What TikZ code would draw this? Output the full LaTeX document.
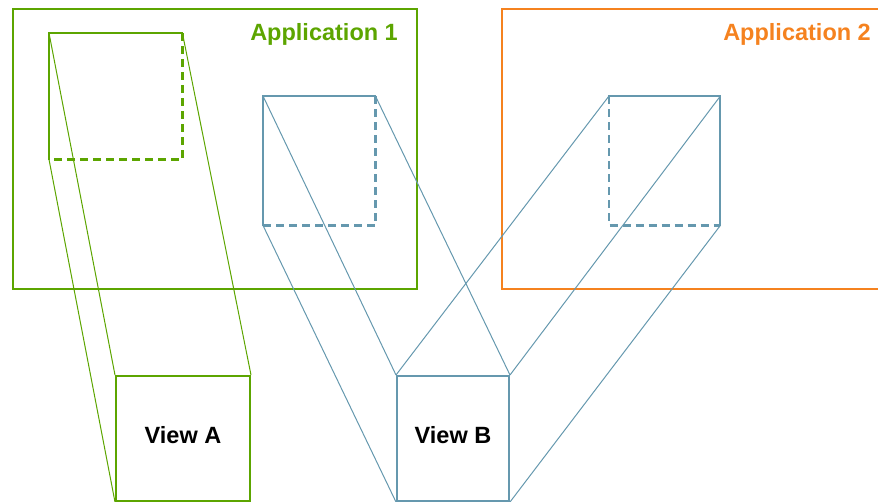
\documentclass[tikz,border=0pt]{standalone}
\usepackage{fontspec}
\setmainfont{Liberation Sans}
\definecolor{appgreen}{HTML}{5CA500}
\definecolor{appblue}{HTML}{6598AE}
\definecolor{apporange}{HTML}{F5821F}
\tikzset{
  box/.style={draw,line width=2pt,inner sep=0,anchor=north west},
  area/.style={inner sep=0,anchor=north west},
  solidedge/.style={line width=2pt,line cap=rect},
  dashedge/.style={line width=2.2pt,dash pattern=on 8pt off 5pt},
  link/.style={line width=1pt},
  title/.style={font=\fontsize{23.5}{28}\selectfont\bfseries,inner sep=0},
  viewbox/.style={box,font=\fontsize{23.5}{28}\selectfont\bfseries,text depth=8pt}
}
\begin{document}
\begin{tikzpicture}[x=1pt,y=-1pt]
  \useasboundingbox (0,0) rectangle (878,501);
  \begin{scope}
  \clip (0,0) rectangle (878,501);
  % applications
  \node[box,draw=appgreen,minimum width=404,minimum height=280] (app1) at (12,8) {};
  \node[box,draw=apporange,minimum width=400,minimum height=280] (app2) at (501,8) {};
  \node[title,text=appgreen,anchor=base east] at (398,40) {Application 1};
  \node[title,text=apporange,anchor=base east] at (871,40) {Application 2};
  % views
  \node[viewbox,draw=appgreen,minimum width=134,minimum height=125] (viewA) at (115,375) {View A};
  \node[viewbox,draw=appblue,minimum width=112,minimum height=125] (viewB) at (396,375) {View B};
  % regions inside the applications
  \node[area,minimum width=133,minimum height=126] (regA) at (49,33) {};
  \node[area,minimum width=112,minimum height=129] (regB1) at (263,96) {};
  \node[area,minimum width=111,minimum height=129] (regB2) at (609,96) {};
  \draw[solidedge,appgreen] (regA.south west) -- (regA.north west) -- (regA.north east);
  \draw[dashedge,appgreen] (regA.north east) -- (regA.south east) -- (regA.south west);
  \draw[solidedge,appblue] (regB1.south west) -- (regB1.north west) -- (regB1.north east);
  \draw[dashedge,appblue] (regB1.north east) -- (regB1.south east) -- (regB1.south west);
  \draw[solidedge,appblue] (regB2.north west) -- (regB2.north east) -- (regB2.south east);
  \draw[dashedge,appblue] (regB2.north west) -- (regB2.south west) -- (regB2.south east);
  % projections
  \draw[link,appgreen] (regA.north west) -- (viewA.north west);
  \draw[link,appgreen] (regA.south west) -- (viewA.south west);
  \draw[link,appgreen] (regA.north east) -- (viewA.north east);
  \draw[link,appblue] (regB1.north west) -- (viewB.north west);
  \draw[link,appblue] (regB1.south west) -- (viewB.south west);
  \draw[link,appblue] (regB1.north east) -- (viewB.north east);
  \draw[link,appblue] (regB2.north west) -- (viewB.north west);
  \draw[link,appblue] (regB2.north east) -- (viewB.north east);
  \draw[link,appblue] (regB2.south east) -- (viewB.south east);
  \end{scope}
\end{tikzpicture}
\end{document}
